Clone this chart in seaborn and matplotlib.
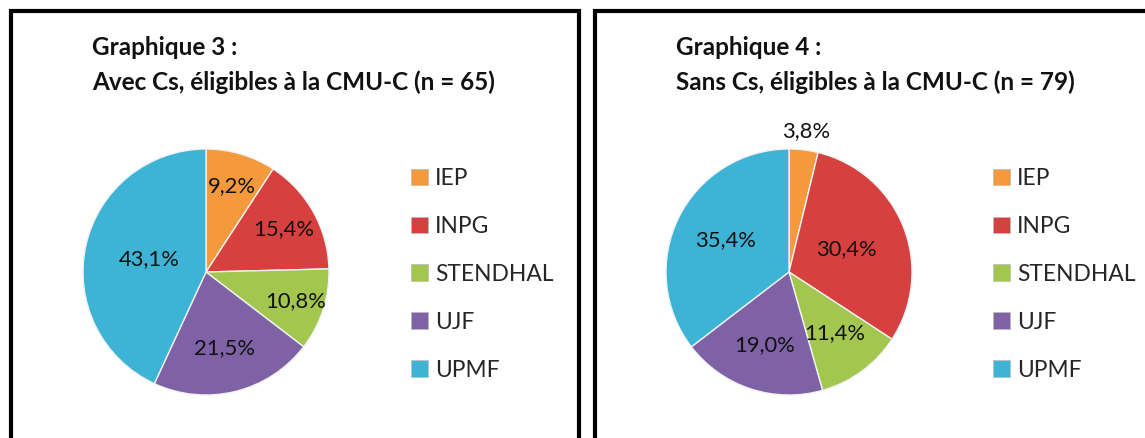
import numpy as np
import seaborn as sns
import matplotlib.pyplot as plt
from matplotlib.patches import Rectangle, Patch

# data
categories = ["IEP", "INPG", "STENDHAL", "UJF", "UPMF"]
avec_cs = [9.2, 15.4, 10.8, 21.5, 43.1]
sans_cs = [3.8, 30.4, 11.4, 19.0, 35.4]
titles = ["Graphique 3 :\nAvec Cs, éligibles à la CMU-C (n = 65)",
          "Graphique 4 :\nSans Cs, éligibles à la CMU-C (n = 79)"]

sns.set_theme(style="white")
plt.rcParams['font.family'] = ['Lato', 'DejaVu Sans']

colors = ["#F59A3C", "#D6403F", "#A3C64E", "#7F62A6", "#3DB4D6"]
# distance of each label from the centre (fraction of the radius)
label_dist = [[0.73, 0.72, 0.77, 0.64, 0.47],
              [1.15, 0.50, 0.62, 0.63, 0.58]]

W, H = 1145, 438
fig = plt.figure(figsize=(W / 100, H / 100), dpi=100)
fig.patch.set_facecolor("white")

# panel frames
fig.add_artist(Rectangle((11 / W, -0.1), (579 - 11) / W, (H - 11) / H + 0.1,
                         transform=fig.transFigure, fill=False, lw=3, ec="black"))
fig.add_artist(Rectangle((595 / W, -0.1), 0.6, (H - 11) / H + 0.1,
                         transform=fig.transFigure, fill=False, lw=3, ec="black"))

centres = [(206, 272), (789, 272)]
title_x = [92, 676]
legend_x = [411, 993]
r_px = 123
half = 150
L = half / r_px

for k, values in enumerate([avec_cs, sans_cs]):
    cx, cy = centres[k]
    ax = fig.add_axes([(cx - half) / W, (H - cy - half) / H, 2 * half / W, 2 * half / H])
    wedges, _ = ax.pie(values, colors=colors, startangle=90, counterclock=False,
                       wedgeprops=dict(edgecolor="#f2f2f2", linewidth=1))
    ax.set_xlim(-L, L)
    ax.set_ylim(-L, L)
    ax.set_aspect("equal")
    ax.axis("off")
    for i, w in enumerate(wedges):
        ang = np.deg2rad((w.theta1 + w.theta2) / 2)
        d = label_dist[k][i]
        txt = f"{values[i]:.1f}".replace(".", ",") + "%"
        ax.text(d * np.cos(ang), d * np.sin(ang), txt, ha="center", va="center",
                fontsize=15.8, color="#111111")

    fig.text(title_x[k] / W, 1 - 36 / H, titles[k], ha="left", va="top",
             fontsize=17.5, fontweight="bold", color="#111111", linespacing=1.6)

    handles = [Patch(facecolor=c, edgecolor="#bbbbbb", lw=0.5) for c in colors]
    fig.legend(handles, categories, loc="upper left",
               bbox_to_anchor=(legend_x[k] / W, 1 - 168 / H), frameon=False,
               fontsize=16.4, handlelength=0.75, handleheight=0.75, handletextpad=0.3,
               labelspacing=1.18, borderpad=0, borderaxespad=0)

fig.savefig("out.png", dpi=100, facecolor="white")
